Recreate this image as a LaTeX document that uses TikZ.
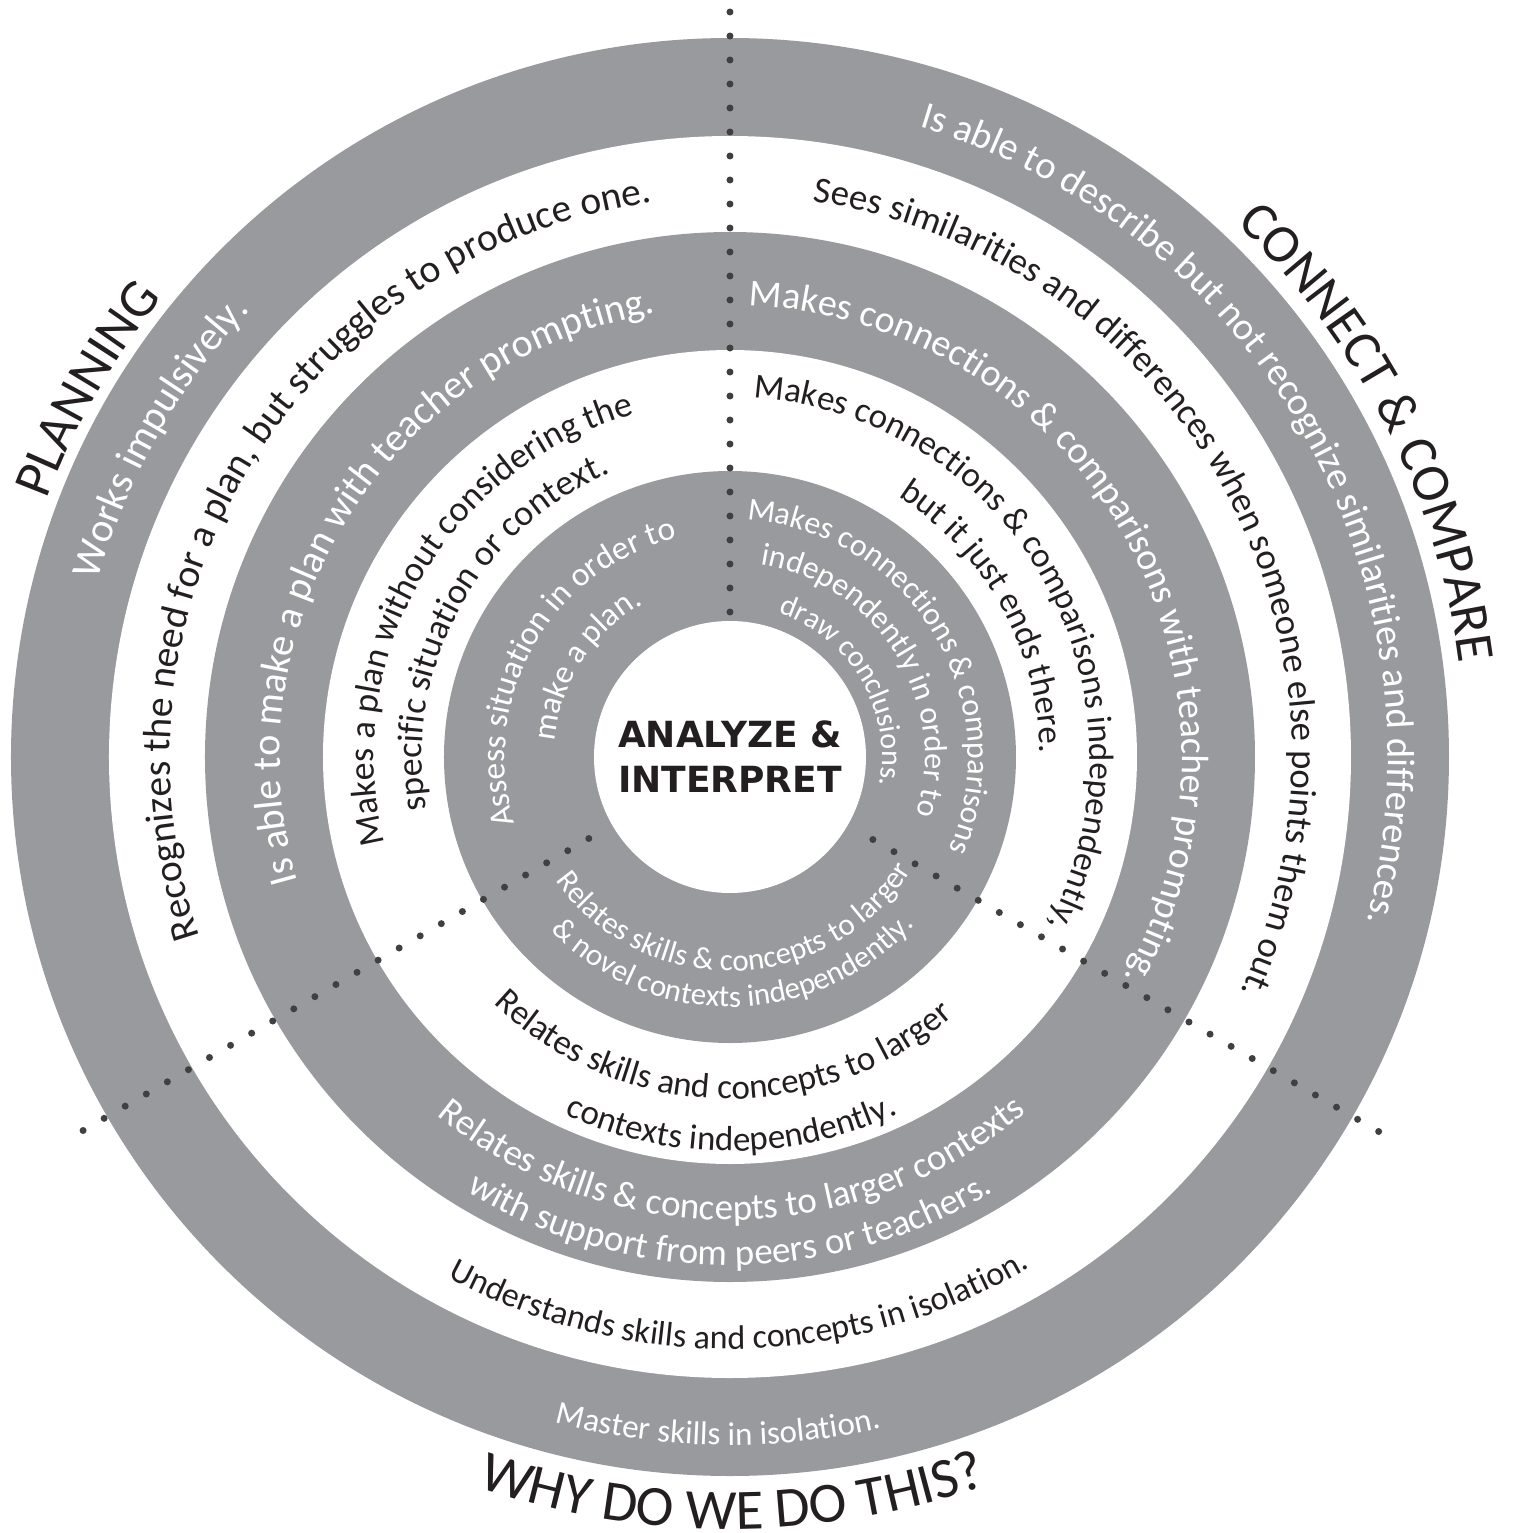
\documentclass[tikz,border=0pt]{standalone}
\usepackage{fontspec}
\setmainfont{Carlito}
\newfontfamily\centrefont{DejaVu Sans}
\usetikzlibrary{decorations.text}
\definecolor{ringgray}{RGB}{153,154,158}
\definecolor{dotgray}{RGB}{64,64,66}
\definecolor{inkblack}{RGB}{35,31,32}
\tikzstyle{ring} = [fill=ringgray]
\tikzstyle{hole} = [fill=white]
\tikzstyle{dotline} = [draw=dotgray, line width=3.5pt, line cap=round]
\tikzstyle{centrelabel} = [font=\centrefont\bfseries\fontsize{18pt}{18pt}\selectfont, text=inkblack, anchor=base, inner sep=0pt]
% upper arcs run clockwise, lower arcs anticlockwise
\newcommand{\uppertext}[5]{\path[decorate, decoration={text along path, text align=center, text color=#1, text={|\fontsize{#2pt}{#2pt}\selectfont|#5}}] (#4+85:#3) arc[start angle=#4+85, end angle=#4-85, radius=#3];}
\newcommand{\lowertext}[5]{\path[decorate, decoration={text along path, text align=center, text color=#1, text={|\fontsize{#2pt}{#2pt}\selectfont|#5}}] (#4-85:#3) arc[start angle=#4-85, end angle=#4+85, radius=#3];}

\begin{document}
\begin{tikzpicture}[x=0.5pt, y=0.5pt]

    \useasboundingbox (-730,-776) rectangle (783,757);

    % Rings
    \fill[ring] (0,0) circle[radius=719];
    \fill[hole] (0,0) circle[radius=621];
    \fill[ring] (0,0) circle[radius=525];
    \fill[hole] (0,0) circle[radius=407];
    \fill[ring] (0,0) circle[radius=286];
    \fill[hole] (0,0) circle[radius=136];

    % Dotted dividers
    \draw[dotline, dash pattern=on 0pt off 12pt] (90:145) -- (90:745.5);
    \draw[dotline, dash pattern=on 0pt off 12.1667pt] (210:163) -- (210:747.5);
    \draw[dotline, dash pattern=on 0pt off 12.1667pt] (330:165) -- (330:749.5);

    % Centre
    \node[centrelabel] (analyze) at (0,10) {ANALYZE \&};
    \node[centrelabel] (interpret) at (0,-35) {INTERPRET};

    % Planning
    \uppertext{inkblack}{27}{730}{150.2}{PLANNING}
    \uppertext{white}{20.5}{656}{150.7}{Works impulsively.}
    \uppertext{inkblack}{19.75}{560}{148.3}{Recognizes the need for a plan, but struggles to produce one.}
    \uppertext{white}{20}{450}{147.8}{Is able to make a plan with teacher prompting.}
    \uppertext{inkblack}{18}{356}{149.8}{Makes a plan without considering the}
    \uppertext{inkblack}{18}{308}{151.3}{specific situation or context.}
    \uppertext{white}{16.75}{225}{150.4}{Assess situation in order to}
    \uppertext{white}{16.5}{176}{147.3}{make a plan.}

    % Connect & compare
    \uppertext{inkblack}{27}{735}{26.9}{CONNECT {\&} COMPARE}
    \uppertext{white}{19.3}{658}{29.4}{Is able to describe but not recognize similarities and differences.}
    \uppertext{inkblack}{18.4}{562}{28.4}{Sees similarities and differences when someone else points them out.}
    \uppertext{white}{19}{452}{29.2}{Makes connections {\&} comparisons with teacher prompting.}
    \uppertext{inkblack}{17.5}{360}{29.2}{Makes connections {\&} comparisons independently,}
    \uppertext{inkblack}{17.5}{310}{28.9}{but it just ends there.}
    \uppertext{white}{16}{238}{31.5}{Makes connections {\&} comparisons}
    \uppertext{white}{16}{195}{31.9}{independently in order to}
    \uppertext{white}{15}{152}{30.4}{draw conclusions.}

    % Why do we do this?
    \lowertext{white}{15.5}{214}{271.7}{Relates skills {\&} concepts to larger}
    \lowertext{white}{15.5}{250}{270.9}{{\&} novel contexts independently.}
    \lowertext{inkblack}{17.5}{342}{268.5}{Relates skills and concepts to larger}
    \lowertext{inkblack}{17.5}{394}{270.2}{contexts independently.}
    \lowertext{white}{18.5}{463}{270.3}{Relates skills {\&} concepts to larger contexts}
    \lowertext{white}{18.5}{508}{270}{with support from peers or teachers.}
    \lowertext{inkblack}{17}{592}{271}{Understands skills and concepts in isolation.}
    \lowertext{white}{16.5}{688}{269}{Master skills in isolation.}
    \lowertext{inkblack}{28.5}{772}{270.2}{WHY DO WE DO THIS?}

\end{tikzpicture}
\end{document}
